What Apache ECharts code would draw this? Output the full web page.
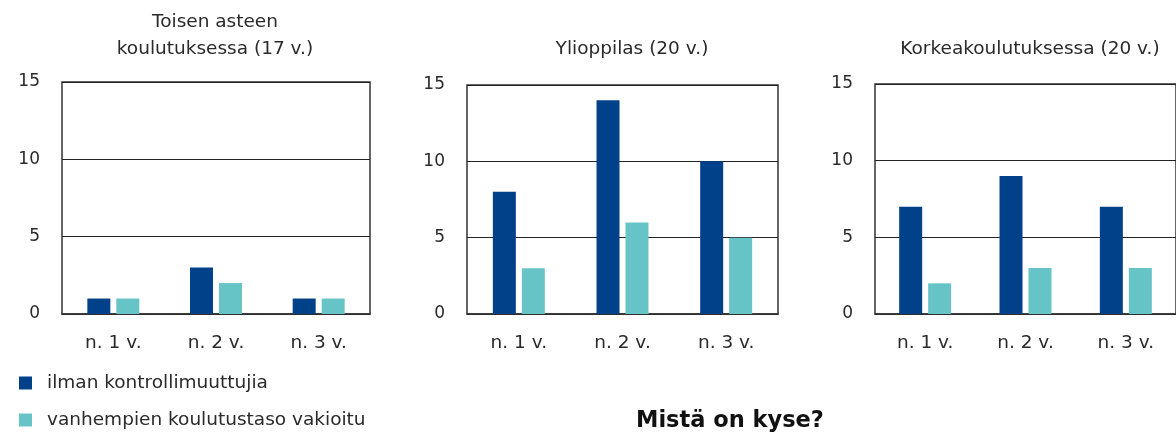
<!DOCTYPE html>
<html>
<head>
<meta charset="utf-8">
<script src="https://cdn.jsdelivr.net/npm/echarts@6/dist/echarts.min.js"></script>
<style>
html,body{margin:0;padding:0;background:#fff;}
#c{width:1176px;height:432px;}
</style>
</head>
<body>
<div id="c"></div>
<script>
const categories = ['n. 1 v.', 'n. 2 v.', 'n. 3 v.'];
const panelTitles = ['Toisen asteen\nkoulutuksessa (17 v.)', 'Ylioppilas (20 v.)', 'Korkeakoulutuksessa (20 v.)'];
const seriesNames = ['ilman kontrollimuuttujia', 'vanhempien koulutustaso vakioitu'];
const toisenAsteenRaw = [1, 3, 1];
const toisenAsteenAdj = [1, 2, 1];
const ylioppilasRaw = [8, 14, 10];
const ylioppilasAdj = [3, 6, 5];
const korkeaRaw = [7, 9, 7];
const korkeaAdj = [2, 3, 3];
const yTicks = [0, 5, 10, 15];
const footerText = 'Mistä on kyse?';

const FONT = '"DejaVu Sans"';
const TXT = '#2a2a2a';
const DARK = '#00418a';
const TEAL = '#66c3c6';
const FS = 18.5;

const rawSets = [toisenAsteenRaw, ylioppilasRaw, korkeaRaw];
const adjSets = [toisenAsteenAdj, ylioppilasAdj, korkeaAdj];

const grids = [
  {left: 62, top: 82, width: 308, height: 232},
  {left: 467, top: 85, width: 311, height: 229},
  {left: 875, top: 84, width: 308, height: 230}
];
const titlePos = [
  {x: 215, y: 9},
  {x: 632, y: 36},
  {x: 1030, y: 36}
];
const legendTops = [372, 409];

const option = {
  animation: false,
  backgroundColor: '#fff',
  textStyle: {fontFamily: FONT, color: TXT},
  grid: grids.map(g => Object.assign({show: true, borderColor: '#333', borderWidth: 1.5, containLabel: false}, g)),
  xAxis: grids.map((g, i) => ({
    type: 'category', gridIndex: i, data: categories,
    axisLine: {show: true, lineStyle: {color: '#333', width: 1.5}},
    axisTick: {show: false},
    axisLabel: {fontFamily: FONT, fontSize: FS, color: TXT, margin: 20}
  })),
  yAxis: grids.map((g, i) => ({
    type: 'value', gridIndex: i, min: yTicks[0], max: yTicks[yTicks.length - 1], interval: yTicks[1] - yTicks[0],
    axisLine: {show: false}, axisTick: {show: false},
    axisLabel: {fontFamily: FONT, fontSize: 17, color: TXT, margin: 22, padding: [6, 0, 0, 0]},
    splitLine: {show: true, lineStyle: {color: '#222', width: 1}}
  })),
  legend: seriesNames.map((n, i) => ({
    data: [n],
    orient: 'vertical', left: 19, top: legendTops[i], padding: 0,
    itemWidth: 13, itemHeight: 13, icon: 'rect',
    textStyle: {fontFamily: FONT, fontSize: FS, color: TXT, lineHeight: 22, padding: [0, 0, 0, 10]}
  })),
  title: panelTitles.map((t, i) => ({
    text: t, left: titlePos[i].x, top: titlePos[i].y, textAlign: 'center', padding: 0,
    textStyle: {fontFamily: FONT, fontSize: FS, fontWeight: 'normal', color: TXT, lineHeight: 27}
  })),
  graphic: [{
    type: 'text', left: 636, top: 410,
    style: {text: footerText, font: 'bold 22.5px ' + FONT, fill: '#111'}
  }],
  series: []
};
for (let i = 0; i < 3; i++) {
  option.series.push({
    name: seriesNames[0], type: 'bar', xAxisIndex: i, yAxisIndex: i,
    data: rawSets[i], barWidth: 23, barGap: '26%', itemStyle: {color: DARK}
  });
  option.series.push({
    name: seriesNames[1], type: 'bar', xAxisIndex: i, yAxisIndex: i,
    data: adjSets[i], barWidth: 23, barGap: '26%', itemStyle: {color: TEAL}
  });
}
const chart = echarts.init(document.getElementById('c'), null, {renderer: 'canvas'});
chart.setOption(option);
</script>
</body>
</html>
